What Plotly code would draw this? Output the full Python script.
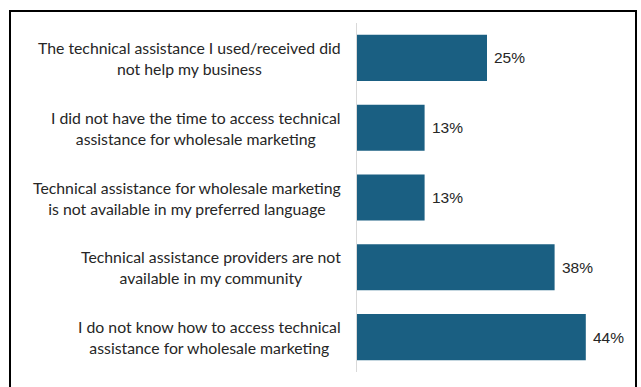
import plotly.graph_objects as go

# Barriers to technical assistance for wholesale marketing (share of respondents)
categories = [
    "The technical assistance I used/received did<br>not help my business",
    "I did not have the time to access technical<br>assistance for wholesale marketing",
    "Technical assistance for wholesale marketing<br>is not available in my preferred language",
    "Technical assistance providers are not<br>available in my community",
    "I do not know how to access technical<br>assistance for wholesale marketing",
]
values = [25, 13, 13, 38, 44]
value_labels = [f"{v}%" for v in values]

BAR_COLOR = "#1a5f82"
LABEL_FONT = "Lato"
VALUE_FONT = "Liberation Sans"

fig = go.Figure(
    go.Bar(
        y=categories,
        x=values,
        orientation="h",
        marker=dict(color=BAR_COLOR, line=dict(width=0)),
        width=0.66,
        hoverinfo="skip",
    )
)

# Category labels: centred multi-line text left of the axis
for cat in categories:
    fig.add_annotation(
        x=0, xref="paper", xanchor="right", xshift=-14,
        y=cat, yref="y", yanchor="middle",
        text=cat, showarrow=False, align="center",
        font=dict(family=LABEL_FONT, size=15.8, color="#262626"),
    )

# Value labels just past the end of each bar
for cat, v, lab in zip(categories, values, value_labels):
    fig.add_annotation(
        x=v, xref="x", xanchor="left", xshift=5,
        y=cat, yref="y", yanchor="middle",
        text=lab, showarrow=False,
        font=dict(family=VALUE_FONT, size=15.5, color="#262626"),
    )

# Chart frame
fig.add_shape(
    type="rect", xref="paper", yref="paper",
    x0=-347 / 273, x1=279 / 273, y0=-30 / 349, y1=361 / 349,
    line=dict(color="#000000", width=2), fillcolor="rgba(0,0,0,0)",
)

fig.update_layout(
    width=641, height=387,
    margin=dict(l=357, r=11, t=23, b=15),
    paper_bgcolor="white", plot_bgcolor="white",
    showlegend=False,
    xaxis=dict(range=[0, 52.5], visible=False, fixedrange=True),
    yaxis=dict(
        categoryorder="array", categoryarray=categories,
        autorange="reversed", showticklabels=False,
        showline=True, linecolor="#d9d9d9", linewidth=1,
        showgrid=False, ticks="", zeroline=False,
    ),
)

fig.write_html("out.html")
